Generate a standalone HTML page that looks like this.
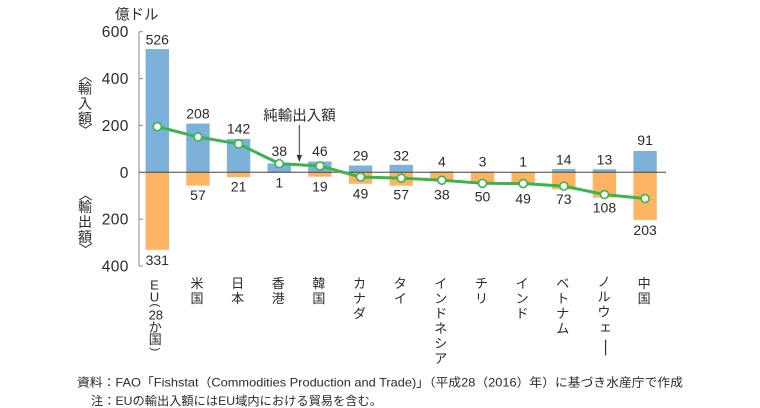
<!DOCTYPE html>
<html><head><meta charset="utf-8"><style>
html,body{margin:0;padding:0;background:#fff;}
svg{display:block;}
text{font-family:"Liberation Sans","Noto Sans CJK JP",sans-serif;fill:#2a2a2a;}
</style></head><body>
<svg width="760" height="408" viewBox="0 0 760 408" xmlns="http://www.w3.org/2000/svg">
<!-- bars: import (blue) -->
<g fill="#7cb2d9">
<rect x="145.6" y="49.06" width="23.4" height="123.24"/>
<rect x="186.25" y="123.57" width="23.4" height="48.73"/>
<rect x="226.9" y="139.03" width="23.4" height="33.27"/>
<rect x="267.55" y="163.4" width="23.4" height="8.9"/>
<rect x="308.2" y="161.52" width="23.4" height="10.78"/>
<rect x="348.85" y="165.51" width="23.4" height="6.79"/>
<rect x="389.5" y="164.8" width="23.4" height="7.5"/>
<rect x="430.15" y="171.36" width="23.4" height="0.94"/>
<rect x="470.8" y="171.6" width="23.4" height="0.7"/>
<rect x="511.45" y="172.07" width="23.4" height="0.23"/>
<rect x="552.1" y="169.02" width="23.4" height="3.28"/>
<rect x="592.75" y="169.25" width="23.4" height="3.05"/>
<rect x="633.4" y="150.98" width="23.4" height="21.32"/>
</g>
<!-- bars: export (orange) -->
<g fill="#fdb462">
<rect x="145.6" y="172.3" width="23.4" height="77.55"/>
<rect x="186.25" y="172.3" width="23.4" height="13.36"/>
<rect x="226.9" y="172.3" width="23.4" height="4.92"/>
<rect x="267.55" y="172.3" width="23.4" height="0.4"/>
<rect x="308.2" y="172.3" width="23.4" height="4.45"/>
<rect x="348.85" y="172.3" width="23.4" height="11.48"/>
<rect x="389.5" y="172.3" width="23.4" height="13.36"/>
<rect x="430.15" y="172.3" width="23.4" height="8.9"/>
<rect x="470.8" y="172.3" width="23.4" height="11.72"/>
<rect x="511.45" y="172.3" width="23.4" height="11.48"/>
<rect x="552.1" y="172.3" width="23.4" height="17.1"/>
<rect x="592.75" y="172.3" width="23.4" height="25.3"/>
<rect x="633.4" y="172.3" width="23.4" height="47.56"/>
</g>
<!-- axis -->
<g stroke="#888" stroke-width="1" fill="none">
<line x1="139" y1="31.7" x2="139" y2="266"/>
<line x1="139" y1="31.7" x2="143" y2="31.7"/>
<line x1="139" y1="78.6" x2="143" y2="78.6"/>
<line x1="139" y1="125.4" x2="143" y2="125.4"/>
<line x1="139" y1="219.2" x2="143" y2="219.2"/>
<line x1="139" y1="266" x2="143" y2="266"/>
</g>
<line x1="139" y1="172.3" x2="666" y2="172.3" stroke="#444" stroke-width="1"/>
<!-- tick labels -->
<g font-size="15.5" text-anchor="end" letter-spacing="0.4">
<text x="128.8" y="37.2">600</text>
<text x="128.8" y="84.1">400</text>
<text x="128.8" y="130.9">200</text>
<text x="128.8" y="177.8">0</text>
<text x="128.8" y="224.7">200</text>
<text x="128.8" y="271.5">400</text>
</g>
<text x="115" y="19.5" font-size="14.5">億ドル</text>
<!-- side labels -->
<g font-size="14" text-anchor="middle">
<text x="0" y="0" dominant-baseline="central" transform="translate(85,75.8) rotate(90)">〈</text>
<text x="85" y="93.5">輸</text>
<text x="85" y="108.5">入</text>
<text x="85" y="123.5">額</text>
<text x="0" y="0" dominant-baseline="central" transform="translate(85,130) rotate(90)">〉</text>
<text x="0" y="0" dominant-baseline="central" transform="translate(85,194.3) rotate(90)">〈</text>
<text x="85" y="212">輸</text>
<text x="85" y="227">出</text>
<text x="85" y="242">額</text>
<text x="0" y="0" dominant-baseline="central" transform="translate(85,249.2) rotate(90)">〉</text>
</g>
<!-- net line -->
<polyline fill="none" stroke="#3cb44b" stroke-width="3" stroke-linejoin="round"
 points="157.3,126.61 197.95,136.92 238.6,143.95 279.25,163.63 319.9,165.97 360.55,176.99 401.2,178.16 441.85,180.27 482.5,183.31 523.15,183.55 563.8,186.12 604.45,194.56 645.1,198.54"/>
<g fill="#fff" stroke="#3cb44b" stroke-width="1.6">
<circle cx="157.3" cy="126.61" r="4"/>
<circle cx="197.95" cy="136.92" r="4"/>
<circle cx="238.6" cy="143.95" r="4"/>
<circle cx="279.25" cy="163.63" r="4"/>
<circle cx="319.9" cy="165.97" r="4"/>
<circle cx="360.55" cy="176.99" r="4"/>
<circle cx="401.2" cy="178.16" r="4"/>
<circle cx="441.85" cy="180.27" r="4"/>
<circle cx="482.5" cy="183.31" r="4"/>
<circle cx="523.15" cy="183.55" r="4"/>
<circle cx="563.8" cy="186.12" r="4"/>
<circle cx="604.45" cy="194.56" r="4"/>
<circle cx="645.1" cy="198.54" r="4"/>
</g>
<!-- value labels above -->
<g font-size="14" text-anchor="middle">
<text x="157.3" y="44.3">526</text>
<text x="197.95" y="118.3">208</text>
<text x="238.6" y="133.3">142</text>
<text x="279.25" y="156">38</text>
<text x="319.9" y="156">46</text>
<text x="360.55" y="160.7">29</text>
<text x="401.2" y="160.7">32</text>
<text x="441.85" y="166.7">4</text>
<text x="482.5" y="166.7">3</text>
<text x="523.15" y="166.7">1</text>
<text x="563.8" y="164.3">14</text>
<text x="604.45" y="164.3">13</text>
<text x="645.1" y="145">91</text>
<!-- below -->
<text x="157.3" y="265">331</text>
<text x="197.95" y="200">57</text>
<text x="238.6" y="191.7">21</text>
<text x="279.25" y="187.3">1</text>
<text x="319.9" y="191.7">19</text>
<text x="360.55" y="198.3">49</text>
<text x="401.2" y="199.3">57</text>
<text x="441.85" y="199.3">38</text>
<text x="482.5" y="201.7">50</text>
<text x="523.15" y="203.3">49</text>
<text x="563.8" y="204">73</text>
<text x="604.45" y="212.7">108</text>
<text x="645.1" y="235">203</text>
</g>
<!-- annotation -->
<text x="263.3" y="120.5" font-size="14.5">純輸出入額</text>
<line x1="299.3" y1="125" x2="299.3" y2="156" stroke="#333" stroke-width="1"/>
<polygon points="296.6,155 302,155 299.3,162" fill="#333"/>
<!-- category labels -->
<g font-size="13" text-anchor="middle">
<text x="154.5" y="289.3">E</text>
<text x="154.5" y="301.3">U</text>
<text x="0" y="0" font-size="11" dominant-baseline="central" transform="translate(155,305.3) rotate(90)">(</text>
<text x="155.8" y="319.6">28</text>
<text x="155.3" y="331.8">か</text>
<text x="155.3" y="343.8">国</text>
<text x="0" y="0" font-size="11" dominant-baseline="central" transform="translate(155,349.3) rotate(90)">)</text>

<text x="197" y="287.8">米</text>
<text x="197" y="302.8">国</text>

<text x="237.6" y="287.8">日</text>
<text x="237.6" y="302.8">本</text>

<text x="278.2" y="287.8">香</text>
<text x="278.2" y="302.8">港</text>

<text x="318.9" y="287.8">韓</text>
<text x="318.9" y="302.8">国</text>

<text x="359.5" y="287.8">カ</text>
<text x="359.5" y="302.8">ナ</text>
<text x="359.5" y="317.8">ダ</text>

<text x="400.2" y="287.8">タ</text>
<text x="400.2" y="302.8">イ</text>

<text x="440.8" y="287.8">イ</text>
<text x="440.8" y="302.8">ン</text>
<text x="440.8" y="317.8">ド</text>
<text x="440.8" y="332.8">ネ</text>
<text x="440.8" y="347.8">シ</text>
<text x="440.8" y="362.8">ア</text>

<text x="481.5" y="287.8">チ</text>
<text x="481.5" y="302.8">リ</text>

<text x="522.1" y="287.8">イ</text>
<text x="522.1" y="302.8">ン</text>
<text x="522.1" y="317.8">ド</text>

<text x="562.8" y="287.8">ベ</text>
<text x="562.8" y="302.8">ト</text>
<text x="562.8" y="317.8">ナ</text>
<text x="562.8" y="332.8">ム</text>

<text x="604" y="286.5">ノ</text>
<text x="604" y="301.5">ル</text>
<text x="604" y="316.5">ウ</text>
<text x="605.5" y="331.4">ェ</text>
<text x="0" y="0" dominant-baseline="central" transform="translate(605,347.5) rotate(90) scale(1.5,1)">ー</text>

<text x="644.1" y="287.8">中</text>
<text x="644.1" y="302.8">国</text>
</g>
<!-- footnotes -->
<text x="77" y="386.5" font-size="12" textLength="606" lengthAdjust="spacingAndGlyphs">資料：FAO「Fishstat（Commodities Production and Trade)」（平成28（2016）年）に基づき水産庁で作成</text>
<text x="91" y="405" font-size="12" textLength="291" lengthAdjust="spacingAndGlyphs">注：EUの輸出入額にはEU域内における貿易を含む。</text>
</svg>
</body></html>
